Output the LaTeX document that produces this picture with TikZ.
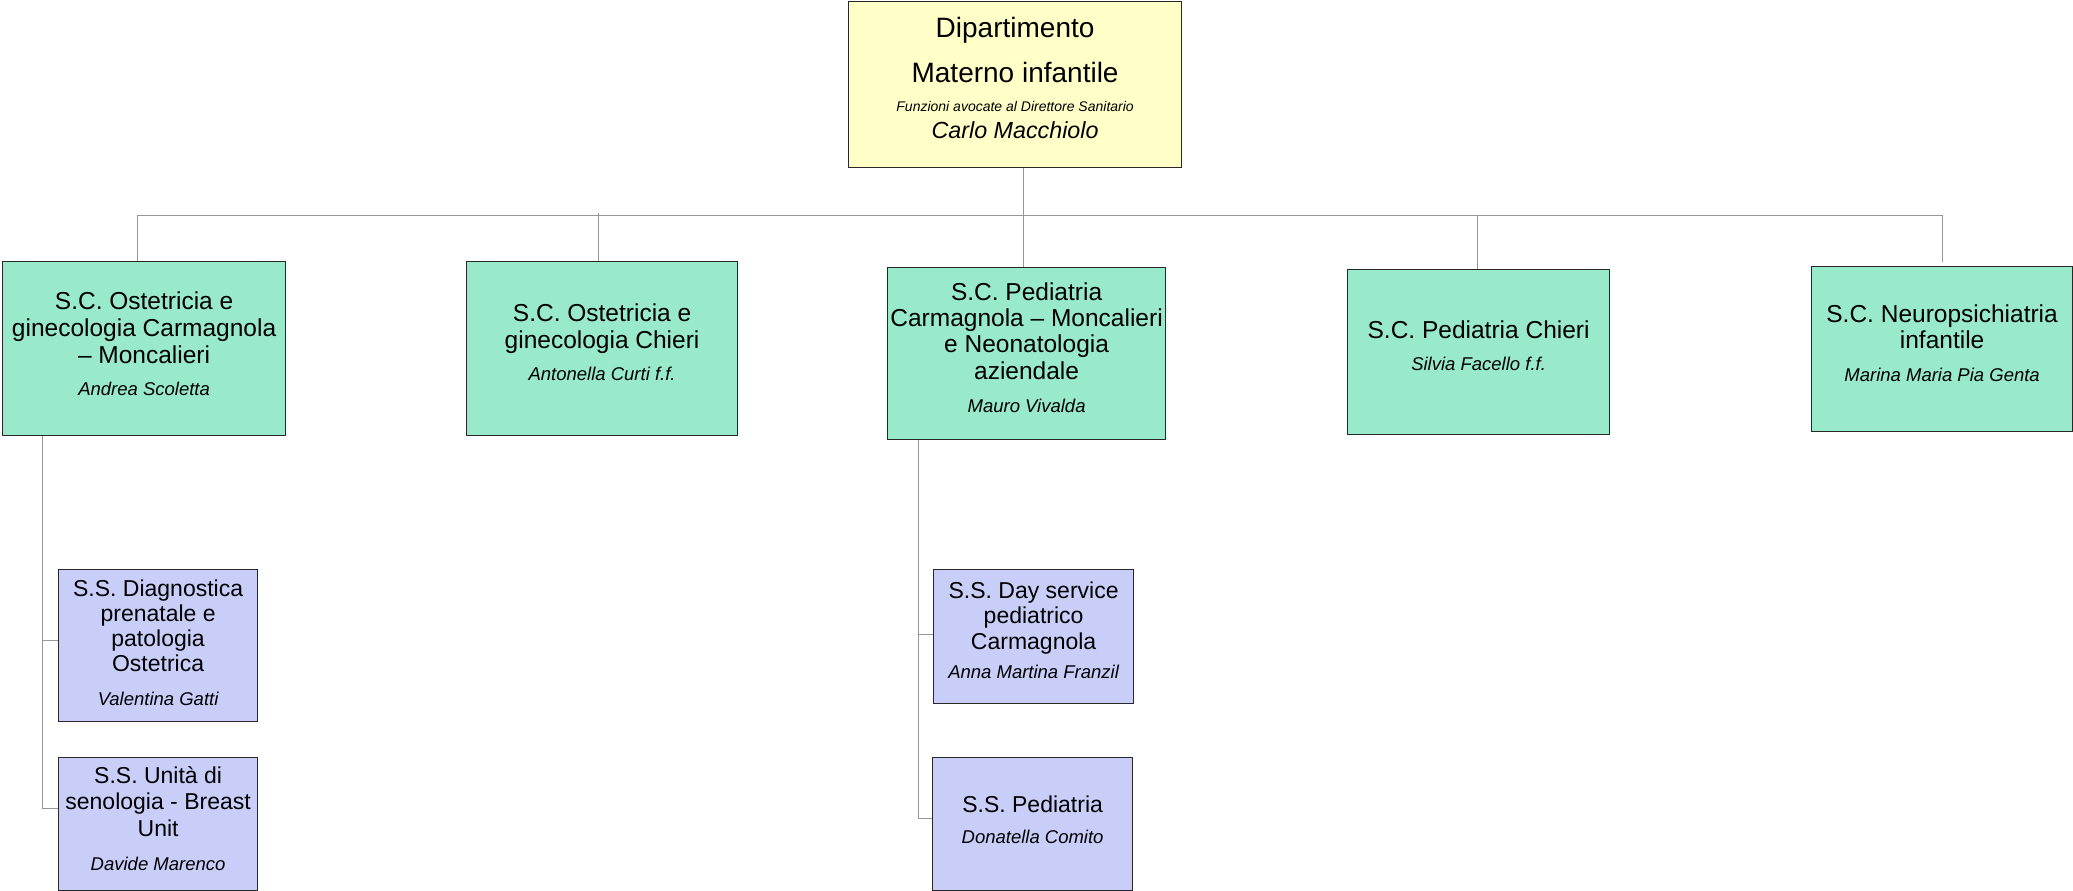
\documentclass[tikz,border=0pt]{standalone}
\usepackage{fontspec}
\setmainfont{Liberation Sans}
\definecolor{yelc}{RGB}{255,255,200}
\definecolor{grnc}{RGB}{152,234,202}
\definecolor{lavc}{RGB}{200,206,248}
\definecolor{bordc}{RGB}{40,40,40}
\definecolor{connc}{RGB}{150,150,150}
\newcommand{\persfont}{\fontsize{18.5}{20}\selectfont\itshape}
\begin{document}
\begin{tikzpicture}[x=1pt,y=-1pt,
  box/.style={draw=bordc, line width=1.2pt, inner sep=0pt, anchor=north west},
  ybox/.style={box, fill=yelc},
  gbox/.style={box, fill=grnc},
  lbox/.style={box, fill=lavc},
  txt/.style={anchor=north, inner sep=0pt, align=center, text=black},
  bigt/.style={txt, font=\fontsize{24.5}{#1}\selectfont},
  subt/.style={txt, font=\fontsize{23}{#1}\selectfont},
  conn/.style={draw=connc, line width=1pt}]
\useasboundingbox (0,0) rectangle (2073,891);

% boxes
\node[ybox, minimum width=333pt, minimum height=166pt] (top) at (848,1) {};
\node[gbox, minimum width=283pt, minimum height=174pt] (b1) at (2,261) {};
\node[gbox, minimum width=271pt, minimum height=174pt] (b2) at (466,261) {};
\node[gbox, minimum width=278pt, minimum height=172pt] (b3) at (887,267) {};
\node[gbox, minimum width=262pt, minimum height=165pt] (b4) at (1347,269) {};
\node[gbox, minimum width=261pt, minimum height=165pt] (b5) at (1811,266) {};
\node[lbox, minimum width=199pt, minimum height=152pt] (sA) at (58,569) {};
\node[lbox, minimum width=199pt, minimum height=133pt] (sB) at (58,757) {};
\node[lbox, minimum width=200pt, minimum height=134pt] (sC) at (933,569) {};
\node[lbox, minimum width=200pt, minimum height=133pt] (sD) at (932,757) {};

% texts
\node[txt, font=\fontsize{28}{27}\selectfont] (topt) at (top.north)
  {\rule{0pt}{36pt}Dipartimento\\[18pt]Materno infantile\\[2pt]
   {\fontsize{14}{16}\selectfont\itshape Funzioni avocate al Direttore Sanitario}\\
   {\fontsize{23.3}{25}\selectfont\itshape Carlo Macchiolo}};
\node[bigt=27] (b1t) at (b1.north)
  {\rule{0pt}{48pt}S.C. Ostetricia e\\ginecologia Carmagnola\\-- Moncalieri\\[5pt]{\persfont Andrea Scoletta}};
\node[bigt=27] (b2t) at (b2.north)
  {\rule{0pt}{60pt}S.C. Ostetricia e\\ginecologia Chieri\\[5pt]{\persfont Antonella Curti f.f.}};
\node[bigt=26.3] (b3t) at (b3.north)
  {\rule{0pt}{33pt}S.C. Pediatria\\Carmagnola -- Moncalieri\\e Neonatologia\\aziendale\\[6.7pt]{\persfont Mauro Vivalda}};
\node[bigt=27] (b4t) at (b4.north)
  {\rule{0pt}{69pt}S.C. Pediatria Chieri\\[5pt]{\persfont Silvia Facello f.f.}};
\node[bigt=26] (b5t) at (b5.north)
  {\rule{0pt}{56pt}S.C. Neuropsichiatria\\infantile\\[7pt]{\persfont Marina Maria Pia Genta}};
\node[subt=25] (sAt) at (sA.north)
  {\rule{0pt}{27pt}S.S. Diagnostica\\prenatale e\\patologia\\Ostetrica\\[9pt]{\persfont Valentina Gatti}};
\node[subt=26.5] (sBt) at (sB.north)
  {\rule{0pt}{26pt}S.S. Unità di\\senologia - Breast\\Unit\\[7.5pt]{\persfont Davide Marenco}};
\node[subt=25.5] (sCt) at (sC.north)
  {\rule{0pt}{29pt}S.S. Day service\\pediatrico\\Carmagnola\\[3.5pt]{\persfont Anna Martina Franzil}};
\node[subt=25.5] (sDt) at (sD.north)
  {\rule{0pt}{55pt}S.S. Pediatria\\[5.5pt]{\persfont Donatella Comito}};

% connectors
\coordinate (busL) at (137,215);
\coordinate (busR) at (1942,215);
\coordinate (lv) at (42,0);
\coordinate (mv) at (918,0);
\draw[conn] ([xshift=8.5pt]top.south) -- ([xshift=8.5pt]top.south |- b3.north);
\draw[conn] (b1.north -| busL) -- (busL) -- (busR) -- ([yshift=4pt]b5.north -| busR);
\draw[conn] ([xshift=-3.5pt]b2.north) -- ([xshift=-3.5pt,yshift=2pt]b2.north |- busL);
\draw[conn] ([xshift=-1pt]b4.north) -- ([xshift=-1pt]b4.north |- busL);
\draw[conn] (b1.south -| lv) |- ([yshift=5pt]sA.west);
\draw[conn] (b1.south -| lv) |- ([yshift=15.5pt]sB.west);
\draw[conn] (b3.south -| mv) |- ([yshift=2pt]sC.west);
\draw[conn] (b3.south -| mv) |- ([yshift=5.5pt]sD.west);
\end{tikzpicture}
\end{document}
